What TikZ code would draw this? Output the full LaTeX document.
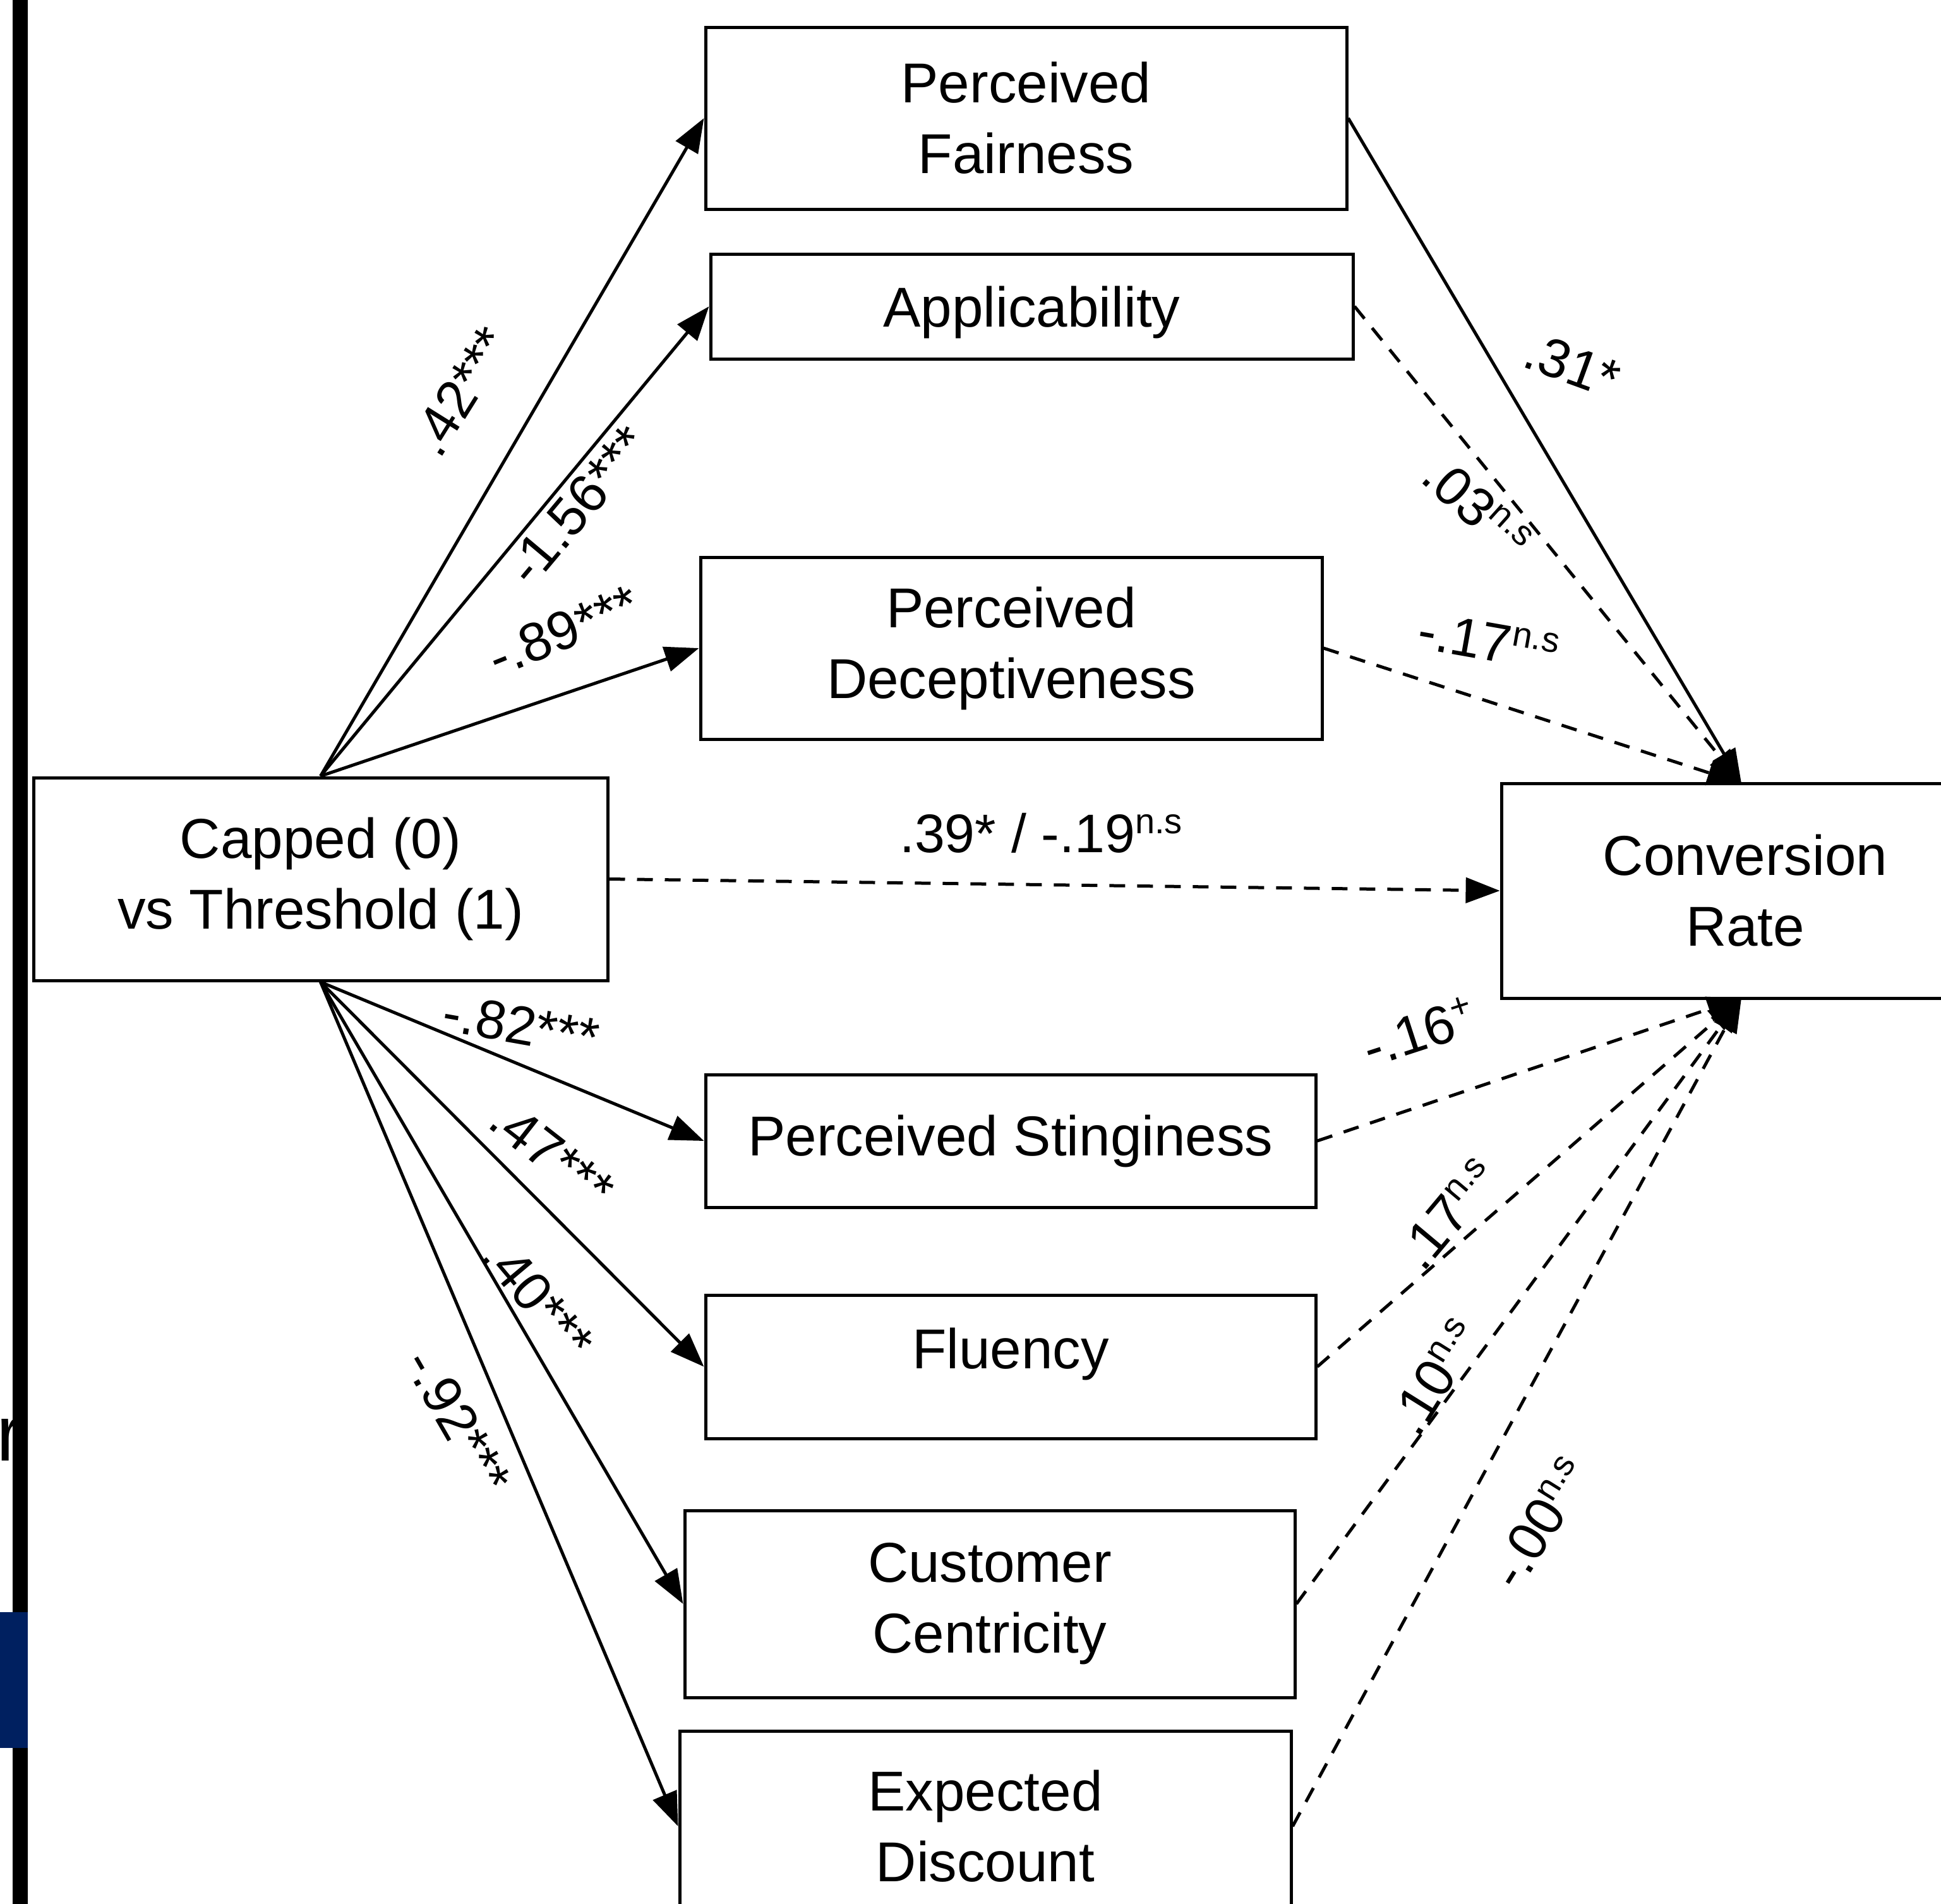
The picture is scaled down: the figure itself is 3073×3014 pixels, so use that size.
\documentclass[tikz,border=0pt]{standalone}
\usepackage{fontspec}
\setmainfont{Liberation Sans}
\usetikzlibrary{arrows.meta}
\definecolor{navyblock}{HTML}{002060}
\newcommand{\boxfont}{\fontsize{89}{112}\selectfont}
\newcommand{\labfont}{\fontsize{86}{100}\selectfont}
\newcommand{\supx}[1]{\raisebox{30pt}{\fontsize{56}{56}\selectfont #1}}
\begin{document}
\begin{tikzpicture}[x=1pt,y=-1pt,
  box/.style={draw, line width=5pt, align=center, font=\boxfont, inner sep=0pt},
  lab/.style={font=\labfont, inner sep=0pt},
  conn/.style={line width=5pt, -{Triangle[length=54pt,width=40pt]}},
  dconn/.style={conn, dash pattern=on 25pt off 19pt}]
\useasboundingbox (0,0) rectangle (3073,3014);

% left edge remnants
\node[font=\fontsize{125}{125}\selectfont, anchor=base east, inner sep=0pt] (rchar) at (36,2312) {r};
\fill (20,0) rectangle (44,3014);
\fill[navyblock] (0,2552) rectangle (44,2767);

% boxes
\node[box, minimum width=1015pt, minimum height=288pt] (fair) at (1624.5,187) {Perceived\\Fairness};
\node[box, minimum width=1017pt, minimum height=166pt, text depth=0pt] (appl) at (1633.5,485) {Applicability};
\node[box, minimum width=984pt, minimum height=288pt] (decep) at (1601,1026) {Perceived\\Deceptiveness};
\node[box, minimum width=909pt, minimum height=321pt] (capped) at (507.5,1391.5) {Capped (0)\\vs Threshold (1)};
\node[box, minimum width=772pt, minimum height=340pt] (conv) at (2763,1410) {Conversion\\Rate};
\node[box, minimum width=966pt, minimum height=210pt] (sting) at (1600,1806) {Perceived Stinginess};
\node[box, minimum width=966pt, minimum height=227pt, text depth=58pt] (flu) at (1600,2163.5) {Fluency};
\node[box, minimum width=966pt, minimum height=296pt] (cc) at (1567,2539) {Customer\\Centricity};
\node[box, minimum width=968pt, minimum height=302pt] (ed) at (1560,2891) {Expected\\Discount};

\coordinate (ctop) at (2757,1240);
\coordinate (cbot) at (2757,1580);

% a paths
\draw[conn] (capped.north) -- (fair.west);
\draw[conn] (capped.north) -- (appl.west);
\draw[conn] (capped.north) -- (decep.west);
\draw[conn] (capped.south) -- (sting.west);
\draw[conn] (capped.south) -- (flu.west);
\draw[conn] (capped.south) -- (cc.west);
\draw[conn] (capped.south) -- (ed.west);
% direct
\draw[dconn] (capped.east) -- (conv.west);
% b paths
\draw[conn] (fair.east) -- (ctop);
\draw[dconn] (appl.east) -- (ctop);
\draw[dconn] (decep.east) -- (ctop);
\draw[dconn] (sting.east) -- (cbot);
\draw[dconn] (flu.east) -- (cbot);
\draw[dconn] (cc.east) -- (cbot);
\draw[dconn] (ed.east) -- (cbot);

% labels
\node[lab, rotate=58] (l1) at (729,619) {.42***};
\node[lab, rotate=50] (l2) at (915,800) {-1.56***};
\node[lab, rotate=22] (l3) at (892,998) {-.89***};
\node[lab, rotate=-20] (l4) at (2489,578) {.31*};
\node[lab, rotate=-42] (l5) at (2338,803) {.03\supx{n.s}};
\node[lab, rotate=-10] (l6) at (2356,1015) {-.17\supx{n.s}};
\node[lab] (l7) at (1648,1319) {.39* / -.19\supx{n.s}};
\node[lab, rotate=-10] (l8) at (825,1623) {-.82***};
\node[lab, rotate=-38] (l9) at (874,1827) {.47***};
\node[lab, rotate=-50] (l10) at (852,2056) {.40***};
\node[lab, rotate=-60] (l11) at (725,2250) {-.92***};
\node[lab, rotate=18] (l12) at (2246,1633) {-.16\supx{+}};
\node[lab, rotate=50] (l13) at (2293,1922) {.17\supx{n.s}};
\node[lab, rotate=58] (l14) at (2272,2180) {.10\supx{n.s}};
\node[lab, rotate=58] (l15) at (2438,2411) {-.00\supx{n.s}};
\end{tikzpicture}
\end{document}
